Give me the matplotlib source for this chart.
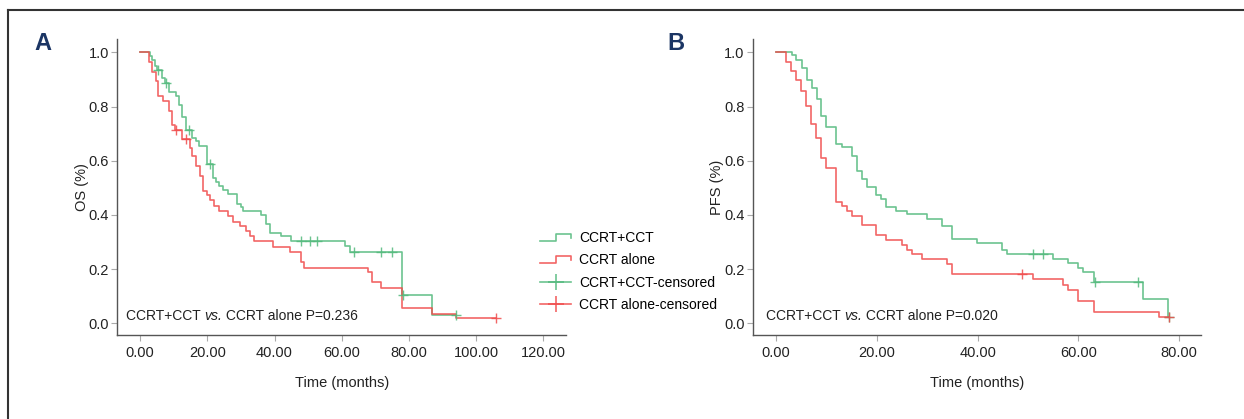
import numpy as np
import matplotlib
matplotlib.use('Agg')
import matplotlib.pyplot as plt
from matplotlib.lines import Line2D
from matplotlib.legend_handler import HandlerBase

plt.rcParams['font.family'] = ['Liberation Sans', 'DejaVu Sans']

# ---- data ----
# panel A: overall survival
os_cct_t = [0, 2.9, 3.7, 4.5, 5.2, 6.6, 7.5, 8.5, 10.8, 11.6, 12.6, 13.8, 15.6, 16.6, 17.4,
            19.8, 21.6, 22.6, 23.6, 24.6, 26.1, 28.7, 30.1, 30.7, 36.0, 37.5, 38.7, 42.0,
            45.0, 61.0, 62.6, 78.0, 86.9]
os_cct_s = [1.0, 0.986, 0.971, 0.95, 0.935, 0.905, 0.885, 0.852, 0.837, 0.806, 0.76, 0.715,
            0.685, 0.672, 0.653, 0.588, 0.538, 0.523, 0.507, 0.493, 0.476, 0.439, 0.429,
            0.414, 0.399, 0.365, 0.333, 0.321, 0.305, 0.284, 0.264, 0.106, 0.032]
os_cct_end = 94.0
os_cct_cens = [5.3, 7.7, 14.6, 20.8, 48.0, 50.7, 52.7, 63.5, 71.8, 74.8, 78.2, 94.0]

os_ccrt_t = [0, 2.7, 3.7, 4.7, 5.5, 6.7, 8.7, 9.6, 10.4, 12.6, 14.8, 15.6, 16.6, 17.8, 18.8,
             19.8, 20.8, 22.1, 23.6, 26.1, 27.8, 29.6, 31.6, 32.8, 33.8, 39.7, 44.7, 48.0,
             48.7, 67.9, 68.9, 71.8, 77.8, 86.9, 94.0]
os_ccrt_s = [1.0, 0.964, 0.928, 0.893, 0.84, 0.822, 0.785, 0.731, 0.715, 0.679, 0.648, 0.619,
             0.582, 0.545, 0.489, 0.474, 0.454, 0.433, 0.414, 0.396, 0.374, 0.358, 0.340,
             0.321, 0.302, 0.282, 0.262, 0.225, 0.205, 0.188, 0.153, 0.131, 0.056, 0.035, 0.019]
os_ccrt_end = 106.0
os_ccrt_cens = [10.6, 13.8, 106.0]

# panel B: progression-free survival
pfs_cct_t = [0, 3.1, 4.0, 5.1, 6.1, 7.1, 8.1, 9.0, 10.0, 12.0, 13.0, 15.0, 16.0, 17.0, 18.0,
             19.9, 20.9, 21.9, 23.9, 25.9, 30.0, 33.0, 35.0, 39.9, 44.9, 45.8, 54.9, 57.9,
             59.9, 60.9, 63.0, 72.9, 77.8]
pfs_cct_s = [1.0, 0.989, 0.971, 0.943, 0.899, 0.868, 0.827, 0.766, 0.723, 0.663, 0.650, 0.619,
             0.561, 0.532, 0.504, 0.474, 0.458, 0.429, 0.414, 0.402, 0.385, 0.358, 0.312,
             0.298, 0.269, 0.255, 0.238, 0.221, 0.205, 0.188, 0.153, 0.088, 0.022]
pfs_cct_end = 77.9
pfs_cct_cens = [50.9, 52.9, 63.2, 71.9, 77.9]

pfs_ccrt_t = [0, 1.9, 2.9, 3.9, 4.9, 5.9, 6.9, 7.9, 8.9, 9.9, 12.0, 13.0, 14.0, 15.0, 17.0,
              19.9, 21.9, 25.0, 26.0, 27.0, 29.0, 33.9, 35.0, 50.9, 56.9, 57.9, 59.9, 63.0, 75.9]
pfs_ccrt_s = [1.0, 0.965, 0.930, 0.896, 0.859, 0.803, 0.735, 0.682, 0.611, 0.573, 0.449, 0.432,
              0.413, 0.396, 0.361, 0.327, 0.306, 0.290, 0.271, 0.255, 0.236, 0.218, 0.183,
              0.162, 0.141, 0.122, 0.082, 0.041, 0.022]
pfs_ccrt_end = 77.9
pfs_ccrt_cens = [48.8, 77.9]

group_labels = ['CCRT+CCT', 'CCRT alone', 'CCRT+CCT-censored', 'CCRT alone-censored']
p_texts = ['0.236', '0.020']

GREEN = '#52b97c'
RED = '#f04b4b'
FS = 10.5
FS_SMALL = 10


def surv_at(t_arr, s_arr, tc):
    idx = np.searchsorted(np.asarray(t_arr), np.asarray(tc), side='right') - 1
    return np.asarray(s_arr)[idx]


def draw_curve(ax, t, s, end, cens, color):
    tt = list(t) + [end]
    ss = list(s) + [s[-1]]
    ax.step(tt, ss, where='post', color=color, lw=1.2, alpha=0.85, zorder=3)
    ax.plot(cens, surv_at(t, s, cens), ls='none', marker='+', ms=7, mew=1.0,
            color=color, alpha=0.85, zorder=4)


def style_axes(ax, xmax_tick, xlim, ylabel):
    ax.set_xlim(*xlim)
    ax.set_ylim(-0.043, 1.048)
    ax.set_xticks(np.arange(0, xmax_tick + 1, 20))
    ax.set_xticklabels([f'{v:.2f}' for v in np.arange(0, xmax_tick + 1, 20)])
    ax.set_yticks(np.arange(0, 1.01, 0.2))
    ax.set_yticklabels([f'{v:.1f}' for v in np.arange(0, 1.01, 0.2)])
    for sp in ['top', 'right']:
        ax.spines[sp].set_visible(False)
    for sp in ['left', 'bottom']:
        ax.spines[sp].set_color('#555555')
        ax.spines[sp].set_linewidth(1.0)
    ax.tick_params(axis='both', colors='#aaaaaa', labelcolor='#222222',
                   labelsize=FS, length=4, width=0.8)
    ax.tick_params(axis='x', pad=4)
    ax.tick_params(axis='y', pad=2)
    ax.set_xlabel('Time (months)', fontsize=FS, color='#222222')
    ax.set_ylabel(ylabel, fontsize=FS, color='#222222')
    ax.xaxis.set_label_coords(0.5, -0.14)
    ax.yaxis.set_label_coords(-0.064, 0.5)


def p_annotation(ax, x, y, p):
    # "vs." is set in italics, the rest upright
    t1 = ax.text(x, y, 'CCRT+CCT ', fontsize=FS_SMALL, va='center', ha='left',
                 color='#222222')
    t2 = ax.annotate('vs.', xy=(1, 0), xycoords=t1, va='bottom', ha='left',
                     fontsize=FS_SMALL, style='italic', color='#222222')
    ax.annotate(' CCRT alone P=' + p, xy=(1, 0), xycoords=t2, va='bottom', ha='left',
                fontsize=FS_SMALL, color='#222222')


class StepHandler(HandlerBase):
    def create_artists(self, legend, orig_handle, xdescent, ydescent, width, height,
                       fontsize, trans):
        x0 = -xdescent
        y0 = -ydescent
        xs = [x0, x0 + 0.5 * width, x0 + 0.5 * width, x0 + width, x0 + width]
        ys = [y0 + 0.1 * height, y0 + 0.1 * height, y0 + 0.85 * height,
              y0 + 0.85 * height, y0 + 0.4 * height]
        ln = Line2D(xs, ys, color=orig_handle.get_color(), lw=1.2, alpha=0.85)
        ln.set_transform(trans)
        return [ln]


fig = plt.figure(figsize=(12.44, 4.19), dpi=100)
axA = fig.add_axes([0.0943, 0.2005, 0.3607, 0.7057])
axB = fig.add_axes([0.6053, 0.2005, 0.3601, 0.7057])

draw_curve(axA, os_cct_t, os_cct_s, os_cct_end, os_cct_cens, GREEN)
draw_curve(axA, os_ccrt_t, os_ccrt_s, os_ccrt_end, os_ccrt_cens, RED)
style_axes(axA, 120, (-6.75, 126.7), 'OS (%)')

draw_curve(axB, pfs_cct_t, pfs_cct_s, pfs_cct_end, pfs_cct_cens, GREEN)
draw_curve(axB, pfs_ccrt_t, pfs_ccrt_s, pfs_ccrt_end, pfs_ccrt_cens, RED)
style_axes(axB, 80, (-4.56, 84.3), 'PFS (%)')

p_annotation(axA, -4.2, 0.027, p_texts[0])
p_annotation(axB, -2.0, 0.027, p_texts[1])

fig.text(42.5 / 1244, 1 - 44 / 419, 'A', fontsize=17, fontweight='bold',
         color='#1b3564', ha='center', va='center')
fig.text(675.5 / 1244, 1 - 44 / 419, 'B', fontsize=17, fontweight='bold',
         color='#1b3564', ha='center', va='center')

handles = [
    Line2D([], [], color=GREEN),
    Line2D([], [], color=RED),
    Line2D([], [], color=GREEN, lw=1.2, alpha=0.85, marker='+', ms=11, mew=1.2),
    Line2D([], [], color=RED, lw=1.2, alpha=0.85, marker='+', ms=11, mew=1.2),
]
fig.legend(handles, group_labels, loc='upper left', bbox_to_anchor=(540 / 1244, 1 - 231 / 419),
           frameon=False, fontsize=FS_SMALL, handlelength=2.25, handletextpad=0.55,
           labelspacing=0.6, borderpad=0, borderaxespad=0,
           handler_map={handles[0]: StepHandler(), handles[1]: StepHandler()})

# frame edges of the cropped panel
fig.add_artist(Line2D([8 / 1244, 8 / 1244], [0, 1 - 10 / 419], color='#333333', lw=1.5,
                      transform=fig.transFigure))
fig.add_artist(Line2D([8 / 1244, 1], [1 - 10 / 419, 1 - 10 / 419], color='#333333', lw=1.5,
                      transform=fig.transFigure))

fig.savefig('out.png', dpi=100)
